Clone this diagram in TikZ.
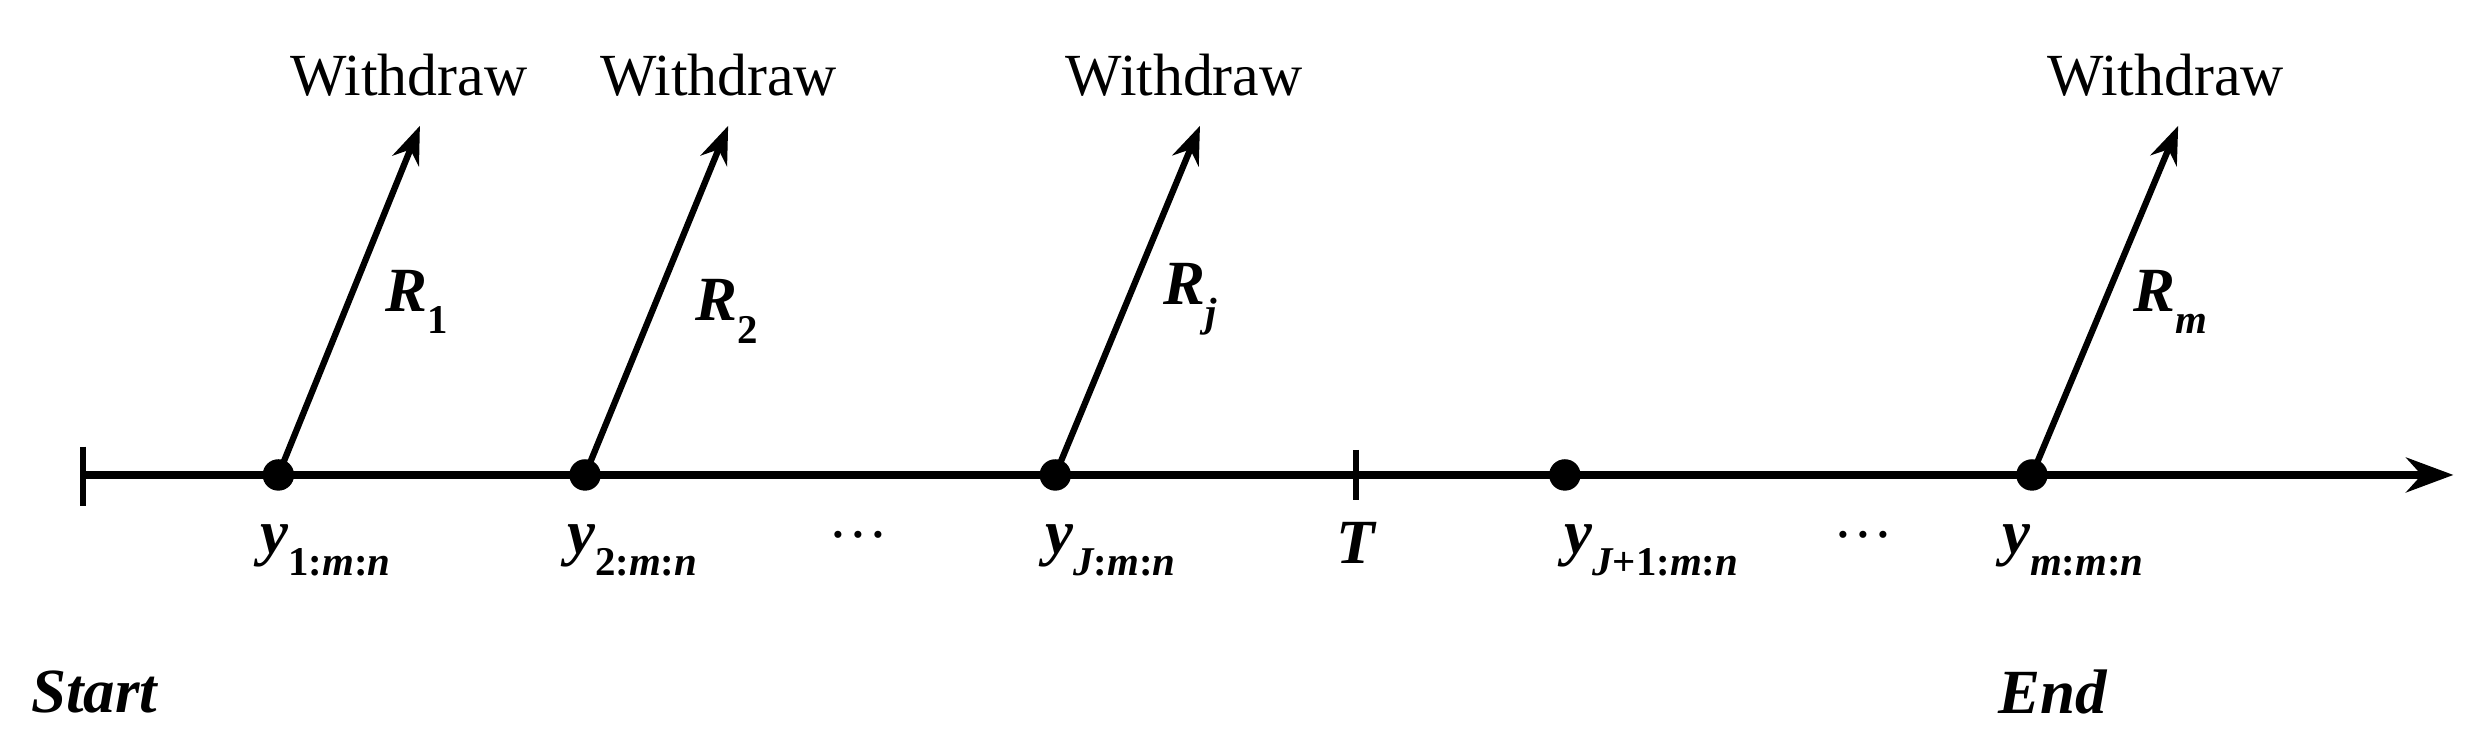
\documentclass[tikz,border=0pt]{standalone}
\usepackage{fontspec}
\setmainfont{Liberation Serif}
\usetikzlibrary{arrows.meta}
\newcommand{\bi}[1]{{\bfseries\itshape #1}}
\newcommand{\sbs}[1]{\raisebox{-0.35em}{\fontsize{26}{28}\selectfont\bfseries #1}}
\begin{document}
\begin{tikzpicture}[x=1pt,y=-1pt,
  lab/.style={font=\fontsize{38}{40}\selectfont},
  mlab/.style={font=\fontsize{40}{42}\selectfont},
  dotn/.style={circle,fill=black,inner sep=0pt,minimum size=20pt},
  wline/.style={line width=4pt,-{Stealth[length=24pt,width=18pt]}}]
\useasboundingbox (0,0) rectangle (1568,476);
\coordinate (s) at (53,302);
\coordinate (e) at (1560,302);
\draw[line width=5pt,-{Stealth[length=30pt,width=22pt]}] (s) -- (e);
\draw[line width=4pt] (53,284) -- (53,322);
\draw[line width=4pt] (862,286) -- (862,318);
\foreach \n/\x in {d1/177,d2/372,dj/671,dk/995,dm/1292} \node[dotn] (\n) at (\x,302) {};
\foreach \n/\x in {w1/267,w2/463,wj/763,wm/1385} \coordinate (\n) at (\x,80);
\draw[wline] (d1.center) -- (w1);
\draw[wline] (d2.center) -- (w2);
\draw[wline] (dj.center) -- (wj);
\draw[wline] (dm.center) -- (wm);
\foreach \n/\x in {t1/260,t2/457,tj/753,tm/1377} \node[lab] (\n) at (\x,48) {Withdraw};
\node[mlab] (r1) at (265,192) {\bi{R}\sbs{1}};
\node[mlab] (r2) at (462,198) {\bi{R}\sbs{2}};
\node[mlab] (rj) at (757,190) {\bi{R}\sbs{\itshape j}};
\node[mlab] (rm) at (1380,192) {\bi{R}\sbs{\itshape m}};
\node[mlab] (y1) at (207,350) {\bi{y}\sbs{1:\itshape m\upshape:\itshape n}};
\node[mlab] (y2) at (402,350) {\bi{y}\sbs{2:\itshape m\upshape:\itshape n}};
\node[mlab] (yj) at (706,350) {\bi{y}\sbs{\itshape J\upshape:\itshape m\upshape:\itshape n}};
\node[mlab] (yk) at (1050,350) {\bi{y}\sbs{\itshape J\upshape+1:\itshape m\upshape:\itshape n}};
\node[mlab] (ym) at (1318,350) {\bi{y}\sbs{\itshape m\upshape:\itshape m\upshape:\itshape n}};
\node[lab] (e1) at (546,340) {\dots};
\node[lab] (e2) at (1185,340) {\dots};
\node[mlab] (T) at (862,345) {\bi{T}};
\node[mlab] (st) at (60,440) {\bi{Start}};
\node[mlab] (en) at (1305,440) {\bi{End}};
\end{tikzpicture}
\end{document}
